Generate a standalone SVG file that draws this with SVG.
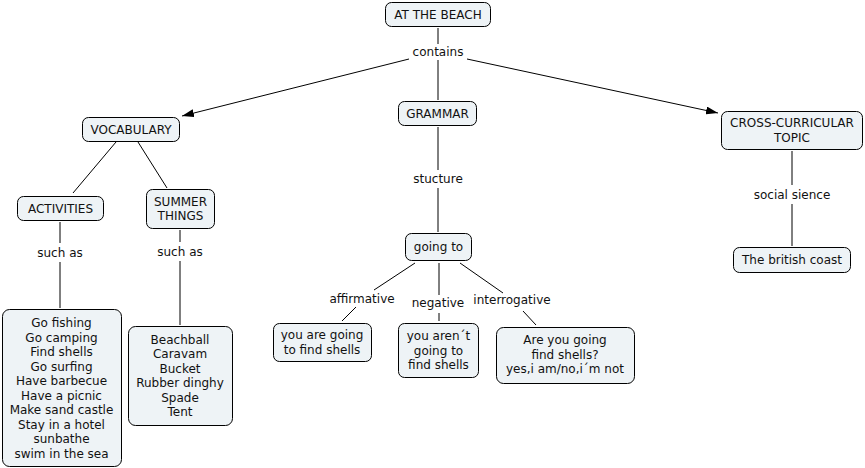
<svg xmlns="http://www.w3.org/2000/svg" width="865" height="468" viewBox="0 0 865 468">
<defs>
<marker id="arr" viewBox="0 0 12 8" refX="12" refY="4" markerWidth="12" markerHeight="8" markerUnits="userSpaceOnUse" orient="auto">
<path d="M0,0 L12,4 L0,8 Z" fill="#000"/>
</marker>
</defs>
<style>
.n rect{fill:#eef3f6;stroke:#000;stroke-width:1;}
text{font-family:"DejaVu Sans",Verdana,sans-serif;font-size:12px;fill:#111;text-anchor:middle;dominant-baseline:central;}
.c line{stroke:#000;stroke-width:1;fill:none;}
</style>
<rect width="865" height="468" fill="#fff"/>
<g class="c" id="connectors">
<line x1="438" y1="28" x2="438" y2="44"/>
<line x1="438" y1="60" x2="438" y2="100"/>
<line x1="409" y1="59" x2="182" y2="116" marker-end="url(#arr)"/>
<line x1="467" y1="59" x2="718" y2="113" marker-end="url(#arr)"/>
<line x1="116" y1="142" x2="73" y2="193"/>
<line x1="138" y1="142" x2="167" y2="188"/>
<line x1="60" y1="222" x2="60" y2="243"/>
<line x1="60" y1="262" x2="60" y2="308"/>
<line x1="180" y1="230" x2="180" y2="242"/>
<line x1="180" y1="261" x2="180" y2="325"/>
<line x1="438" y1="127" x2="438" y2="170"/>
<line x1="438" y1="188" x2="438" y2="232"/>
<line x1="415" y1="263" x2="374" y2="290"/>
<line x1="356" y1="307" x2="342" y2="321"/>
<line x1="439" y1="263" x2="439" y2="295"/>
<line x1="439" y1="313" x2="439" y2="321"/>
<line x1="460" y1="263" x2="503" y2="293"/>
<line x1="523" y1="311" x2="536" y2="325"/>
<line x1="792" y1="151" x2="792" y2="185"/>
<line x1="792" y1="204" x2="792" y2="246"/>
</g>
<g id="labels">
<text x="438" y="52">contains</text>
<text x="438" y="179">stucture</text>
<text x="60" y="253">such as</text>
<text x="180" y="252">such as</text>
<text x="362" y="299">affirmative</text>
<text x="438" y="303">negative</text>
<text x="512" y="300">interrogative</text>
<text x="792" y="195">social sience</text>
</g>
<g class="n" id="n-beach"><rect x="385.5" y="2.5" width="105" height="24" rx="6"/><text x="438" y="14.5">AT THE BEACH</text></g>
<g class="n" id="n-grammar"><rect x="398.5" y="101.5" width="78" height="24" rx="6"/><text x="437.5" y="113.5">GRAMMAR</text></g>
<g class="n" id="n-vocab"><rect x="82.5" y="117.5" width="97" height="24" rx="6"/><text x="131" y="129.5">VOCABULARY</text></g>
<g class="n" id="n-cross"><rect x="721.5" y="111.5" width="141" height="38" rx="6"/><text x="792" y="123">CROSS-CURRICULAR</text><text x="792" y="137.5">TOPIC</text></g>
<g class="n" id="n-activities"><rect x="17.5" y="196.5" width="86" height="24" rx="6"/><text x="60.5" y="208.5">ACTIVITIES</text></g>
<g class="n" id="n-summer"><rect x="146.5" y="189.5" width="68" height="39" rx="6"/><text x="180.5" y="201.5">SUMMER</text><text x="180.5" y="216">THINGS</text></g>
<g class="n" id="n-goingto"><rect x="405.5" y="233.5" width="66" height="27" rx="6"/><text x="438.5" y="247">going to</text></g>
<g class="n" id="n-coast"><rect x="733.5" y="247.5" width="117" height="25" rx="6"/><text x="792" y="260">The british coast</text></g>
<g class="n" id="n-actlist"><rect x="2.5" y="309.5" width="119" height="157" rx="7"/>
<text x="61.5" y="323">Go fishing</text>
<text x="61.5" y="337.5">Go camping</text>
<text x="61.5" y="352">Find shells</text>
<text x="61.5" y="366.5">Go surfing</text>
<text x="61.5" y="381">Have barbecue</text>
<text x="61.5" y="395.5">Have a picnic</text>
<text x="61.5" y="410">Make sand castle</text>
<text x="61.5" y="424.5">Stay in a hotel</text>
<text x="61.5" y="439">sunbathe</text>
<text x="61.5" y="453.5">swim in the sea</text>
</g>
<g class="n" id="n-sumlist"><rect x="128.5" y="326.5" width="104" height="99" rx="7"/>
<text x="180" y="339.5">Beachball</text>
<text x="180" y="354">Caravam</text>
<text x="180" y="368.5">Bucket</text>
<text x="180" y="383">Rubber dinghy</text>
<text x="180" y="397.5">Spade</text>
<text x="180" y="412">Tent</text>
</g>
<g class="n" id="n-aff"><rect x="273.5" y="323.5" width="98" height="38" rx="6"/><text x="322" y="335">you are going</text><text x="322" y="349.5">to find shells</text></g>
<g class="n" id="n-neg"><rect x="398.5" y="323.5" width="80" height="54" rx="6"/><text x="438.5" y="336">you aren´t</text><text x="438.5" y="350.5">going to</text><text x="438.5" y="365">find shells</text></g>
<g class="n" id="n-int"><rect x="496.5" y="327.5" width="138" height="56" rx="7"/><text x="565" y="340">Are you going</text><text x="565" y="354.5">find shells?</text><text x="565" y="369">yes,i am/no,i´m not</text></g>
</svg>
